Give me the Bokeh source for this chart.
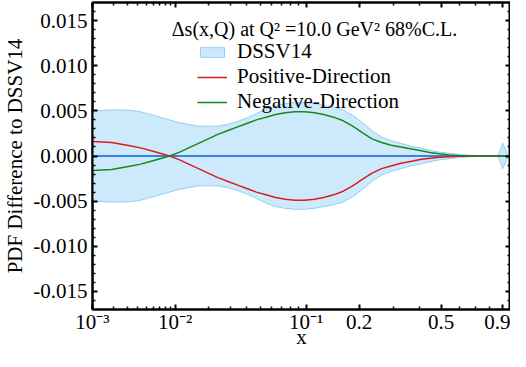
import numpy as np
from bokeh.plotting import figure
from bokeh.models import (Range1d, FixedTicker, LinearAxis, CustomJSTickFormatter,
                          PrintfTickFormatter, Legend, LegendItem, Label)
from bokeh.embed import file_html
from bokeh.resources import INLINE

# ---------------- data ----------------
x_vals = [0.001, 0.00139, 0.00189, 0.00254, 0.00334, 0.00433, 0.00556, 0.00704, 0.00882, 0.0109,
          0.0134, 0.0164, 0.0199, 0.0239, 0.0285, 0.0338, 0.0400, 0.0469, 0.0548, 0.0637,
          0.0738, 0.0850, 0.0976, 0.112, 0.127, 0.145, 0.164, 0.185, 0.208, 0.234,
          0.262, 0.292, 0.326, 0.362, 0.402, 0.445, 0.492, 0.542, 0.596, 0.655,
          0.719, 0.787, 0.865, 0.905, 0.95, 0.97]
band_hi = [0.0050, 0.00505, 0.0051, 0.0051, 0.00505, 0.0049, 0.0046, 0.0043, 0.0040, 0.0037,
           0.0035, 0.0033, 0.0033, 0.0033, 0.0035, 0.0038, 0.0042, 0.0047, 0.0052, 0.0056,
           0.0058, 0.0059, 0.0059, 0.0058, 0.0056, 0.0054, 0.0051, 0.0045, 0.0037, 0.0028,
           0.0021, 0.0017, 0.0014, 0.0011, 0.0009, 0.00064, 0.00043, 0.0003, 0.00018, 0.0001,
           0.00005, 0.0, 0.0, 0.0014, 0.0, 0.0]
band_lo = [-0.0050, -0.00505, -0.0051, -0.0051, -0.00505, -0.0049, -0.0046, -0.0043, -0.0040, -0.0037,
           -0.0035, -0.0033, -0.0033, -0.0033, -0.0035, -0.0038, -0.0042, -0.0047, -0.0052, -0.0056,
           -0.0058, -0.0059, -0.0059, -0.0058, -0.0056, -0.0054, -0.0051, -0.0045, -0.0037, -0.0028,
           -0.0021, -0.0017, -0.0014, -0.0011, -0.0009, -0.00064, -0.00043, -0.0003, -0.00018, -0.0001,
           -0.00005, 0.0, 0.0, -0.0014, 0.0, 0.0]
central = [0.0, 0.0, 0.0, 0.0, 0.0, 0.0, 0.0, 0.0, 0.0, 0.0,
           0.0, 0.0, 0.0, 0.0, 0.0, 0.0, 0.0, 0.0, 0.0, 0.0,
           0.0, 0.0, 0.0, 0.0, 0.0, 0.0, 0.0, 0.0, 0.0, 0.0,
           0.0, 0.0, 0.0, 0.0, 0.0, 0.0, 0.0, 0.0, 0.0, 0.0,
           0.0, 0.0, 0.0, 0.0, 0.0, 0.0]
positive = [0.0016, 0.00155, 0.0015, 0.0013, 0.0011, 0.0009, 0.0006, 0.0003, 0.0000, -0.0004,
            -0.0009, -0.0014, -0.0019, -0.0024, -0.0028, -0.0032, -0.0036, -0.0040, -0.0043, -0.0046,
            -0.0048, -0.0049, -0.0049, -0.0048, -0.0046, -0.0043, -0.0039, -0.0033, -0.0026, -0.0019,
            -0.0014, -0.0011, -0.0008, -0.0006, -0.0004, -0.00025, -0.00015, -0.00008, -0.00003, 0.0,
            0.0, 0.0, 0.0, 0.0, 0.0, 0.0]
negative = [-0.0016, -0.00155, -0.0015, -0.0013, -0.0011, -0.0009, -0.0006, -0.0003, 0.0000, 0.0004,
            0.0009, 0.0014, 0.0019, 0.0024, 0.0028, 0.0032, 0.0036, 0.0040, 0.0043, 0.0046,
            0.0048, 0.0049, 0.0049, 0.0048, 0.0046, 0.0043, 0.0039, 0.0033, 0.0026, 0.0019,
            0.0015, 0.0012, 0.0010, 0.0008, 0.0006, 0.0004, 0.00025, 0.00012, 0.00005, 0.0,
            0.0, 0.0, 0.0, 0.0, 0.0, 0.0]

x_major = [0.001, 0.01, 0.1, 0.2, 0.5, 0.9]
x_major_labels = ["10\u207b\u00b3", "10\u207b\u00b2", "10\u207b\u00b9", "0.2", "0.5", "0.9"]
x_minor = [0.002, 0.003, 0.004, 0.005, 0.006, 0.007, 0.008, 0.009,
           0.02, 0.03, 0.04, 0.05, 0.06, 0.07, 0.08, 0.09,
           0.3, 0.4, 0.6, 0.7, 0.8]
y_major = [-0.015, -0.010, -0.005, 0.0, 0.005, 0.010, 0.015]
y_minor = [-0.016, -0.014, -0.013, -0.012, -0.011, -0.009, -0.008, -0.007, -0.006,
           -0.004, -0.003, -0.002, -0.001, 0.001, 0.002, 0.003, 0.004,
           0.006, 0.007, 0.008, 0.009, 0.011, 0.012, 0.013, 0.014, 0.016]

X_MIN, X_MAX = 0.001, 0.97
Y_MIN, Y_MAX = -0.017, 0.017
POW = 0.2  # x axis drawn as x**0.2

title_text = "\u0394s(x,Q) at Q\u00b2 =10.0 GeV\u00b2 68%C.L."
x_title = "x"
y_title = "PDF Difference to DSSV14"

FONT = "Liberation Serif"
FS = "21px"

# ---------------- transform ----------------
u = np.array(x_vals) ** POW
band_x = np.concatenate([u, u[::-1]])
band_y = np.concatenate([np.array(band_hi), np.array(band_lo)[::-1]])

p = figure(width=510, height=351, output_backend="svg", toolbar_location=None,
           x_range=Range1d(X_MIN ** POW, X_MAX ** POW), y_range=Range1d(Y_MIN, Y_MAX),
           min_border_left=87, min_border_right=0, min_border_top=2, min_border_bottom=0,
           background_fill_color="white", border_fill_color="white")

p.xgrid.visible = False
p.ygrid.visible = False
p.outline_line_color = "black"
p.outline_line_width = 2

band_r = p.patch(band_x, band_y, fill_color="#cdeafc", line_color="#8fd0f5", line_width=1)
p.line(u, central, line_color="#3d80e4", line_width=2)
pos_r = p.line(u, positive, line_color="#d81c1c", line_width=1.5)
neg_r = p.line(u, negative, line_color="#17891a", line_width=1.5)

xt = FixedTicker(ticks=[t ** POW for t in x_major], minor_ticks=[t ** POW for t in x_minor])
yt = FixedTicker(ticks=y_major, minor_ticks=y_minor)

xfmt = CustomJSTickFormatter(args=dict(vals=x_major, labs=x_major_labels), code="""
const x = Math.pow(tick, 5);
let best = 0;
for (let i = 0; i < vals.length; i++) {
  if (Math.abs(vals[i] - x) < Math.abs(vals[best] - x)) best = i;
}
return labs[best];
""")
blank = CustomJSTickFormatter(code="return '';")


def style_axis(ax):
    ax.axis_line_width = 2
    ax.axis_line_color = "black"
    ax.major_tick_in = 5
    ax.major_tick_out = 0
    ax.minor_tick_in = 3
    ax.minor_tick_out = 0
    ax.major_tick_line_width = 2
    ax.minor_tick_line_width = 1.5
    ax.major_label_text_font = FONT
    ax.major_label_text_font_size = FS
    ax.major_label_text_color = "black"
    ax.axis_label_text_font = FONT
    ax.axis_label_text_font_size = FS
    ax.axis_label_text_font_style = "normal"
    ax.axis_label_text_color = "black"


def blank_axis(ax):
    ax.formatter = blank
    ax.major_label_text_font_size = "1px"
    ax.major_label_standoff = 0


xa = p.xaxis[0]
xa.ticker = xt
xa.formatter = xfmt
style_axis(xa)
xa.axis_label = x_title
xa.major_label_standoff = 0
xa.axis_label_standoff = -12
xa.major_label_text_line_height = 0.9
xa.axis_label_text_line_height = 0.9

ya = p.yaxis[0]
ya.ticker = yt
ya.formatter = PrintfTickFormatter(format="%.3f")
style_axis(ya)
ya.axis_label = y_title
ya.major_label_standoff = 5
ya.axis_label_standoff = 3

top = LinearAxis(ticker=xt)
style_axis(top)
blank_axis(top)
p.add_layout(top, "above")

right = LinearAxis(ticker=yt)
style_axis(right)
blank_axis(right)
p.add_layout(right, "right")

x_mid = (X_MIN ** POW + X_MAX ** POW) / 2
p.add_layout(Label(x=x_mid, y=0.0141, x_offset=13, text=title_text,
                   text_align="center", text_baseline="alphabetic",
                   text_font=FONT, text_font_size="20px", text_color="black"))

legend = Legend(items=[LegendItem(label="DSSV14", renderers=[band_r]),
                       LegendItem(label="Positive-Direction", renderers=[pos_r]),
                       LegendItem(label="Negative-Direction", renderers=[neg_r])],
                location=(105, 195), orientation="vertical",
                label_text_font=FONT, label_text_font_size=FS, label_text_color="black",
                glyph_width=30, glyph_height=12, label_standoff=10, spacing=-6,
                padding=0, margin=0, border_line_alpha=0, background_fill_alpha=0)
p.add_layout(legend, "center")

open("out.html", "w").write(file_html(p, INLINE))
